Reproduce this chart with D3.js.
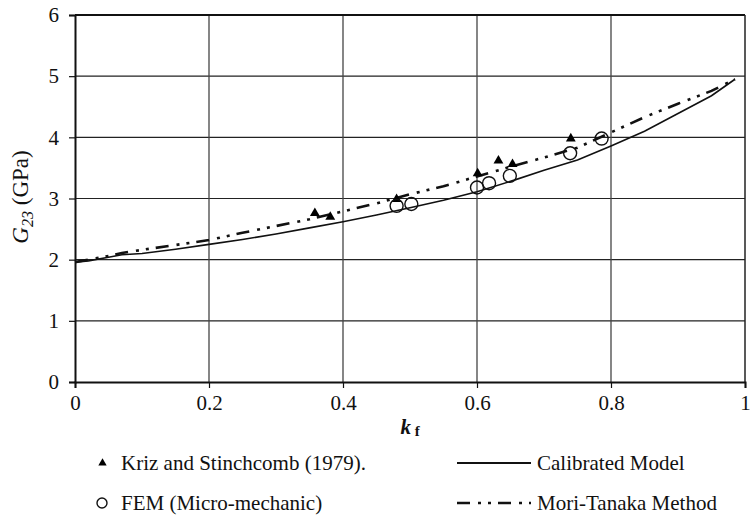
<!DOCTYPE html>
<html>
<head>
<meta charset="utf-8">
<script src="https://cdn.jsdelivr.net/npm/d3@7"></script>
<style>
  html, body { margin: 0; padding: 0; background: #fff; }
  svg { display: block; }
  text { font-family: "Liberation Serif", "Times New Roman", serif; fill: #111; }
</style>
</head>
<body>
<svg id="chart" width="753" height="520"></svg>
<script>
// Fibre volume fraction grid used by both model curves
const modelKf = [0, 0.02, 0.05, 0.07, 0.1, 0.15, 0.2, 0.25, 0.3, 0.35, 0.4, 0.45, 0.5, 0.55, 0.6, 0.65, 0.7, 0.75, 0.8, 0.85, 0.9, 0.95, 0.985];
const calibratedG23 = [1.96, 1.98, 2.04, 2.08, 2.10, 2.17, 2.25, 2.33, 2.42, 2.52, 2.62, 2.73, 2.85, 2.97, 3.11, 3.28, 3.46, 3.63, 3.86, 4.10, 4.39, 4.68, 4.95];
const moriTanakaG23 = [1.96, 2.00, 2.06, 2.11, 2.16, 2.24, 2.32, 2.44, 2.55, 2.66, 2.79, 2.92, 3.07, 3.20, 3.36, 3.52, 3.67, 3.83, 4.08, 4.33, 4.55, 4.76, 4.95];

// Experimental data (Kriz and Stinchcomb, 1979)
const krizKf  = [0.358, 0.381, 0.48, 0.601, 0.632, 0.653, 0.74];
const krizG23 = [2.76, 2.70, 2.99, 3.41, 3.62, 3.56, 3.98];

// Micro-mechanical FEM results
const femKf  = [0.48, 0.502, 0.60, 0.618, 0.649, 0.739, 0.786];
const femG23 = [2.88, 2.91, 3.18, 3.25, 3.37, 3.74, 3.98];

const xTicks = [0, 0.2, 0.4, 0.6, 0.8, 1];
const xTickLabels = ["0", "0.2", "0.4", "0.6", "0.8", "1"];
const yTicks = [0, 1, 2, 3, 4, 5, 6];

const svg = d3.select("#chart");
const plotLeft = 75, plotRight = 745, plotTop = 15, plotBottom = 382;

const x = d3.scaleLinear().domain([0, 1]).range([plotLeft, plotRight]);
const y = d3.scaleLinear().domain([0, 6]).range([plotBottom, plotTop]);

// Grid lines
const grid = svg.append("g");
grid.selectAll("line.h").data(yTicks.slice(1, -1)).join("line")
  .attr("x1", plotLeft).attr("x2", plotRight)
  .attr("y1", d => y(d)).attr("y2", d => y(d))
  .attr("stroke", "#222").attr("stroke-width", 1.2);
grid.selectAll("line.v").data(xTicks.slice(1, -1)).join("line")
  .attr("y1", plotTop).attr("y2", plotBottom)
  .attr("x1", d => x(d)).attr("x2", d => x(d))
  .attr("stroke", "#444").attr("stroke-width", 1.3);

// Plot frame
svg.append("line").attr("x1", plotLeft).attr("x2", plotRight).attr("y1", plotTop).attr("y2", plotTop)
  .attr("stroke", "#111").attr("stroke-width", 2);
svg.append("line").attr("x1", plotRight).attr("x2", plotRight).attr("y1", plotTop).attr("y2", plotBottom)
  .attr("stroke", "#222").attr("stroke-width", 1.5);

// Axes
const yAxis = svg.append("g").attr("transform", `translate(${plotLeft},0)`)
  .call(d3.axisLeft(y).tickValues(yTicks).tickFormat(d3.format("d")).tickSize(6).tickPadding(10));
const xAxis = svg.append("g").attr("transform", `translate(0,${plotBottom})`)
  .call(d3.axisBottom(x).tickValues(xTicks).tickFormat((d, i) => xTickLabels[i]).tickSize(6).tickPadding(7));
[xAxis, yAxis].forEach(a => {
  a.attr("font-family", null).attr("font-size", null);
  a.select(".domain").attr("stroke", "#111").attr("stroke-width", 2);
  a.selectAll(".tick line").attr("stroke", "#111").attr("stroke-width", 1.2);
  a.selectAll(".tick text").style("font-family", "'Liberation Serif', serif")
    .style("font-size", "21px").attr("fill", "#111");
});

// Axis titles
const yTitle = svg.append("text")
  .attr("transform", "translate(28,197) rotate(-90)")
  .attr("text-anchor", "middle")
  .style("font-size", "23px");
yTitle.append("tspan").text("G").style("font-style", "italic");
yTitle.append("tspan").text("23").style("font-style", "italic").style("font-size", "16px").attr("dy", 5);
yTitle.append("tspan").text(" (GPa)").attr("dy", -5);

const xTitle = svg.append("text")
  .attr("x", 410).attr("y", 434)
  .attr("text-anchor", "middle")
  .style("font-size", "21px").style("font-weight", "bold");
xTitle.append("tspan").text("k").style("font-style", "italic");
xTitle.append("tspan").text(" f").style("font-size", "15px").attr("dy", 2);

// Model curves
const line = d3.line().x(d => x(d[0])).y(d => y(d[1]));
const mtDash = "13,8,3,7,3,7";

svg.append("path")
  .datum(modelKf.map((k, i) => [k, calibratedG23[i]]))
  .attr("d", line).attr("fill", "none")
  .attr("stroke", "#111").attr("stroke-width", 1.6);

svg.append("path")
  .datum(modelKf.map((k, i) => [k, moriTanakaG23[i]]))
  .attr("d", line).attr("fill", "none")
  .attr("stroke", "#111").attr("stroke-width", 2.6)
  .attr("stroke-dasharray", mtDash);

// Experimental points
const tri = d3.symbol().type(d3.symbolTriangle).size(42);
svg.append("g").selectAll("path").data(krizKf.map((k, i) => [k, krizG23[i]])).join("path")
  .attr("d", tri)
  .attr("transform", d => `translate(${x(d[0])},${y(d[1])})`)
  .attr("fill", "#000");

// FEM points
svg.append("g").selectAll("circle").data(femKf.map((k, i) => [k, femG23[i]])).join("circle")
  .attr("cx", d => x(d[0])).attr("cy", d => y(d[1])).attr("r", 6.5)
  .attr("fill", "none").attr("stroke", "#111").attr("stroke-width", 1.4);

// Legend
const legendTri = d3.symbol().type(d3.symbolTriangle).size(30);
const legend = svg.append("g").style("font-size", "21px");
legend.append("path").attr("d", legendTri).attr("transform", "translate(102.5,463)").attr("fill", "#000");
legend.append("text").attr("x", 121).attr("y", 470).text("Kriz and Stinchcomb (1979).");
legend.append("circle").attr("cx", 102).attr("cy", 503).attr("r", 5)
  .attr("fill", "none").attr("stroke", "#111").attr("stroke-width", 1.4);
legend.append("text").attr("x", 121).attr("y", 510).text("FEM (Micro-mechanic)");

legend.append("line").attr("x1", 457).attr("x2", 531).attr("y1", 463).attr("y2", 463)
  .attr("stroke", "#111").attr("stroke-width", 1.8);
legend.append("text").attr("x", 537).attr("y", 470).text("Calibrated Model");
legend.append("line").attr("x1", 457).attr("x2", 531).attr("y1", 503).attr("y2", 503)
  .attr("stroke", "#111").attr("stroke-width", 2.6).attr("stroke-dasharray", mtDash);
legend.append("text").attr("x", 537).attr("y", 510).text("Mori-Tanaka Method");
</script>
</body>
</html>
